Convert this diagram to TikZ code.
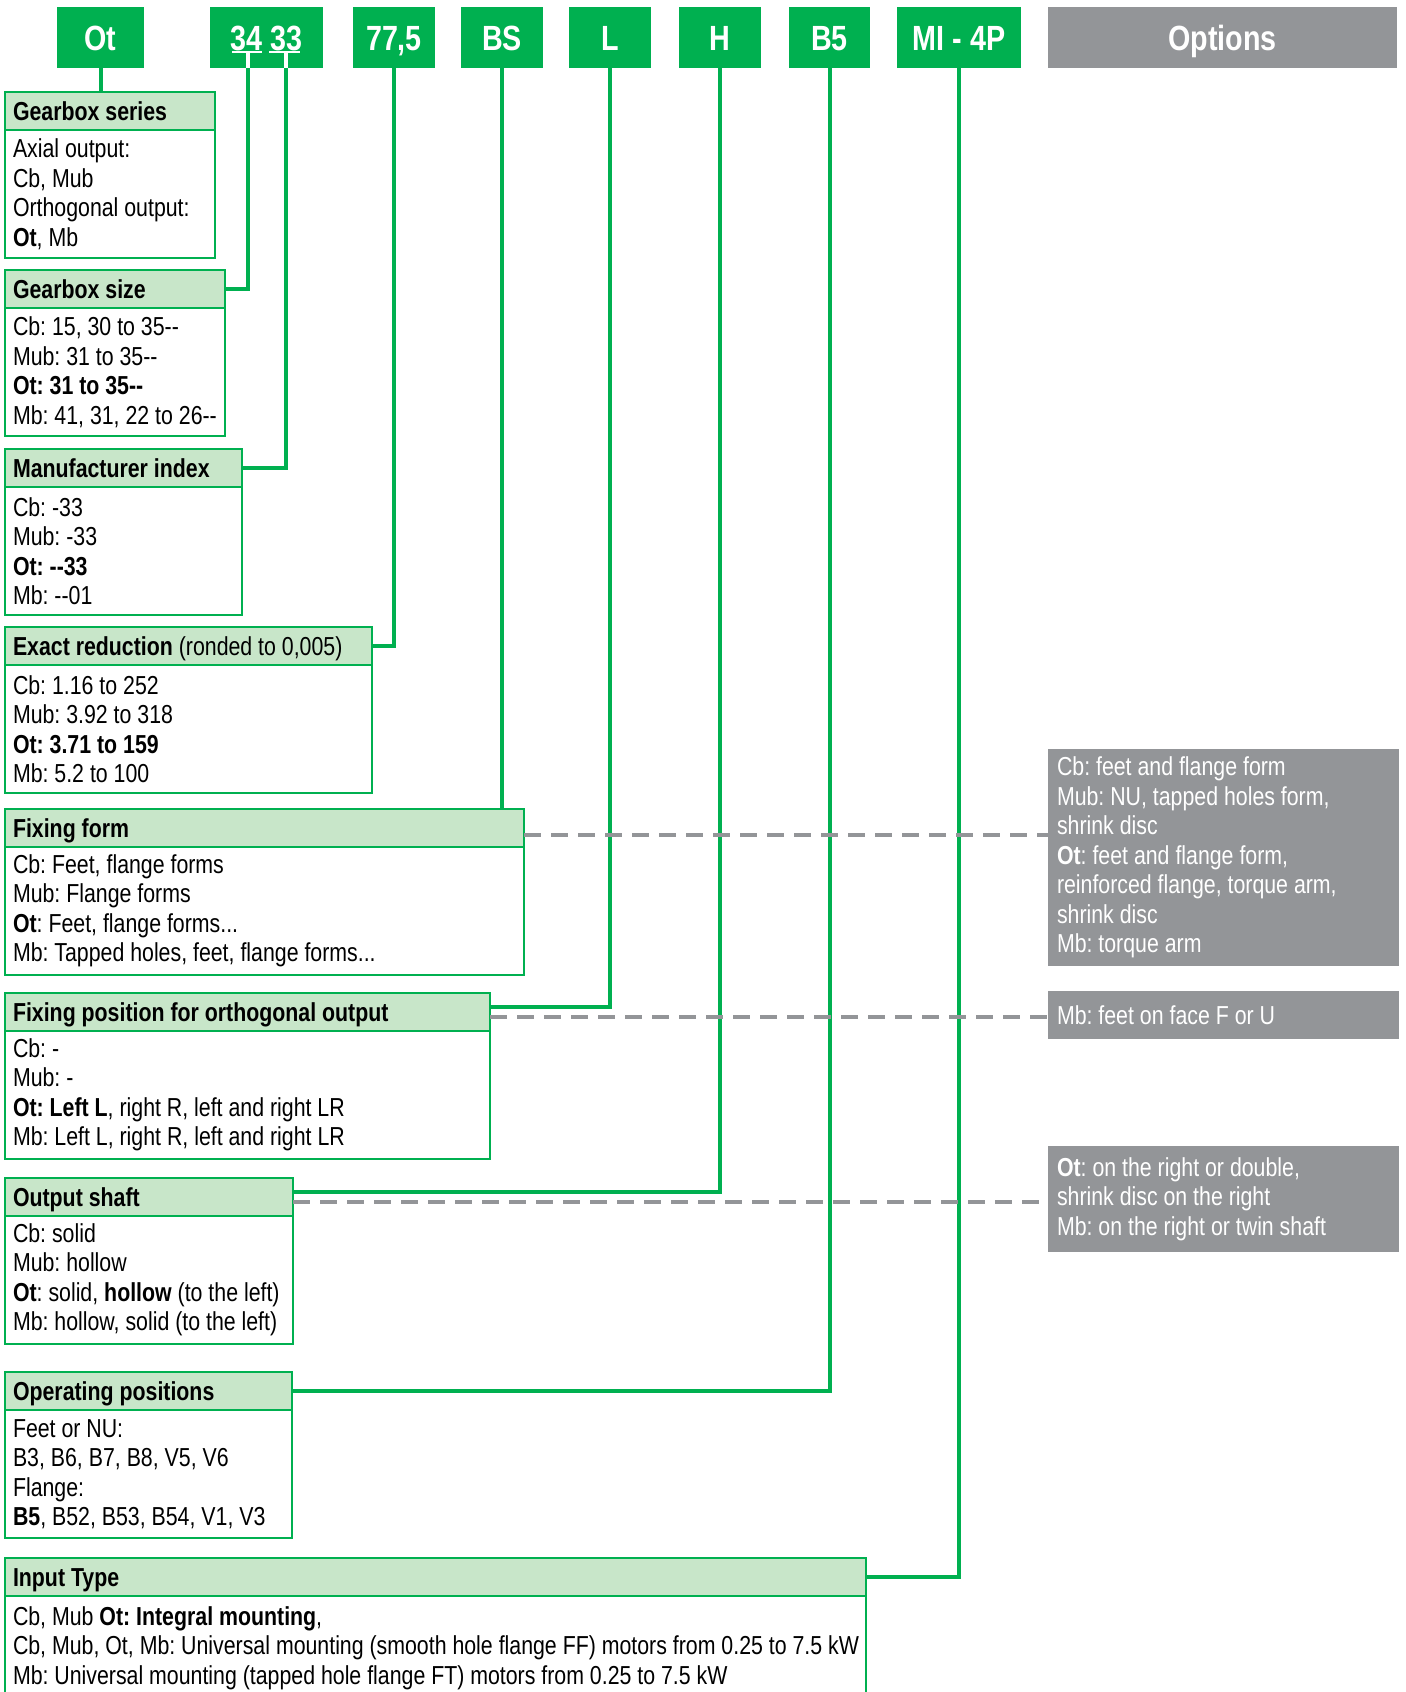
\documentclass[tikz,border=0pt]{standalone}
\usepackage{fontspec}
\setmainfont{Liberation Sans}[FakeStretch=0.82]
\usetikzlibrary{positioning}
\definecolor{sgreen}{RGB}{0,176,80}
\definecolor{hdrfill}{RGB}{200,230,201}
\definecolor{sgrey}{RGB}{147,149,152}
\newcommand{\bodyfont}{\fontsize{13}{14.75}\selectfont}
\frenchspacing

\begin{document}
\begin{tikzpicture}[
    x=0.5pt, y=-0.5pt,
    execute at begin node={\spaceskip=0pt\xspaceskip=0pt},
    code/.style={fill=sgreen, text=white, font=\bfseries\fontsize{17.5}{20}\selectfont, text height=12.5pt, text depth=0pt, minimum height=30.5pt, inner sep=0pt, outer sep=0pt, anchor=north west},
    hdr/.style={draw=sgreen, line width=0.8pt, fill=hdrfill, text width=#1, text height=9.4pt, text depth=0pt, minimum height=19pt, inner xsep=4pt, inner ysep=0pt, outer sep=0pt, anchor=north west, align=left, font=\bfseries\bodyfont},
    body/.style={draw=sgreen, line width=0.8pt, text width=#1, minimum height=64pt, inner xsep=4pt, inner ysep=2pt, outer sep=0pt, align=left, font=\bodyfont},
    opt/.style={fill=sgrey, text=white, text width=166.5pt, inner xsep=4.5pt, inner ysep=0pt, outer sep=0pt, anchor=north west, align=left, font=\bodyfont},
    link/.style={draw=sgreen, line width=2pt},
    tee/.style={draw=white, line width=#1},
    dashlink/.style={draw=sgrey, line width=2pt, dash pattern=on 8.5pt off 5pt}
]
\path[use as bounding box, fill=white] (0,0) rectangle (1405,1692);

% designation code
\node[code, minimum width=43.5pt] (cOt) at (57,7) {Ot};
\node[code, minimum width=56.5pt] (cSize) at (210,7) {34 33};
\node[code, minimum width=41pt] (cRatio) at (353,7) {77,5};
\node[code, minimum width=41pt, right=13pt of cRatio] (cForm) {BS};
\node[code, minimum width=41pt, right=13pt of cForm] (cPos) {L};
\node[code, minimum width=41pt, right=14pt of cPos] (cShaft) {H};
\node[code, minimum width=40.5pt, right=14pt of cShaft] (cMount) {B5};
\node[code, minimum width=62pt, right=13.5pt of cMount] (cInput) {MI - 4P};
\node[code, fill=sgrey, minimum width=174.5pt, right=13.5pt of cInput] (cOpt) {Options};
\coordinate (c34) at ([xshift=-9.25pt]cSize.south);
\coordinate (c33) at ([xshift=9.75pt]cSize.south);
\draw[tee=2pt] ([yshift=8pt]c34) -- (c34);
\draw[tee=2pt] ([yshift=8pt]c33) -- (c33);
\draw[tee=1.2pt] ([xshift=-8pt,yshift=8pt]c34) -- ([xshift=7pt,yshift=8pt]c34);
\draw[tee=1.2pt] ([xshift=-8.5pt,yshift=8pt]c33) -- ([xshift=7pt,yshift=8pt]c33);

% left column
\node[hdr=97pt] (series) at (5,92) {Gearbox series};
\node[body=97pt, below=0pt of series] (seriesTxt) {Axial output:\\Cb, Mub\\\mbox{Orthogonal output:}\\\textbf{Ot}, Mb};
\node[hdr=102pt] (size) at (5,270) {Gearbox size};
\node[body=102pt, below=0pt of size] (sizeTxt) {Cb: 15, 30 to 35-{}-\\Mub: 31 to 35-{}-\\\textbf{Ot: 31 to 35-{}-}\\\mbox{Mb: 41, 31, 22 to 26-{}-}};
\node[hdr=110.5pt] (index) at (5,449) {Manufacturer index};
\node[body=110.5pt, below=0pt of index] (indexTxt) {Cb: -33\\Mub: -33\\\textbf{Ot: -{}-33}\\Mb: -{}-01};
\node[hdr=175.5pt] (ratio) at (5,627) {Exact reduction \mdseries(ronded to 0,005)};
\node[body=175.5pt, below=0pt of ratio] (ratioTxt) {Cb: 1.16 to 252\\Mub: 3.92 to 318\\\textbf{Ot: 3.71 to 159}\\Mb: 5.2 to 100};
\node[hdr=251.5pt] (form) at (5,809) {Fixing form};
\node[body=251.5pt, below=0pt of form] (formTxt) {Cb: Feet, flange forms\\Mub: Flange forms\\\textbf{Ot}: Feet, flange forms...\\Mb: Tapped holes, feet, flange forms...};
\node[hdr=234.5pt] (pos) at (5,993) {Fixing position for orthogonal output};
\node[body=234.5pt, below=0pt of pos] (posTxt) {Cb: -\\Mub: -\\\textbf{Ot: Left L}, right R, left and right LR\\Mb: Left L, right R, left and right LR};
\node[hdr=136pt] (shaft) at (5,1178) {Output shaft};
\node[body=136pt, below=0pt of shaft] (shaftTxt) {Cb: solid\\Mub: hollow\\\mbox{\textbf{Ot}: solid, \textbf{hollow} (to the left)}\\\mbox{Mb: hollow, solid (to the left)}};
\node[hdr=135.5pt] (mount) at (5,1372) {Operating positions};
\node[body=135.5pt, below=0pt of mount] (mountTxt) {Feet or NU:\\B3, B6, B7, B8, V5, V6\\Flange:\\\textbf{B5}, B52, B53, B54, V1, V3};
\node[hdr=422.5pt] (input) at (5,1558) {Input Type};
\node[body=422.5pt, minimum height=52pt, below=0pt of input] (inputTxt) {Cb, Mub \textbf{Ot: Integral mounting},\\\mbox{Cb, Mub, Ot, Mb: Universal mounting (smooth hole flange FF) motors from 0.25 to 7.5 kW}\\\mbox{Mb: Universal mounting (tapped hole flange FT) motors from 0.25 to 7.5 kW}};

% options
\node[opt, minimum height=108.5pt] (optForm) at (1048,749) {Cb: feet and flange form\\Mub: NU, tapped holes form,\\shrink disc\\\textbf{Ot}: feet and flange form,\\reinforced flange, torque arm,\\shrink disc\\Mb: torque arm};
\node[opt, minimum height=24pt] (optPos) at (1048,991) {Mb: feet on face F or U};
\node[opt, minimum height=53pt] (optShaft) at (1048,1146) {\textbf{Ot}: on the right or double,\\shrink disc on the right\\Mb: on the right or twin shaft};

% connectors
\draw[link] (cOt.south) -- (cOt.south |- series.north);
\draw[link] (c34) |- (size.east);
\draw[link] (c33) |- (index.east);
\draw[link] (cRatio.south) |- (ratio.east);
\draw[link] (cForm.south) -- (cForm.south |- form.north);
\draw[link] (cPos.south) |- ([yshift=2.5pt]pos.east);
\draw[link] (cShaft.south) |- ([yshift=2.5pt]shaft.east);
\draw[link] (cMount.south) |- (mount.east);
\draw[link] (cInput.south) |- (input.east);

\coordinate (dForm) at ([yshift=-3.5pt]form.east);
\coordinate (dPos) at ([yshift=-2.5pt]pos.east);
\coordinate (dShaft) at ([yshift=-2.5pt]shaft.east);
\draw[dashlink] (dForm) -- (dForm -| optForm.west);
\draw[dashlink] (dPos) -- (dPos -| optPos.west);
\draw[dashlink] (dShaft) -- (dShaft -| optShaft.west);
\end{tikzpicture}
\end{document}
